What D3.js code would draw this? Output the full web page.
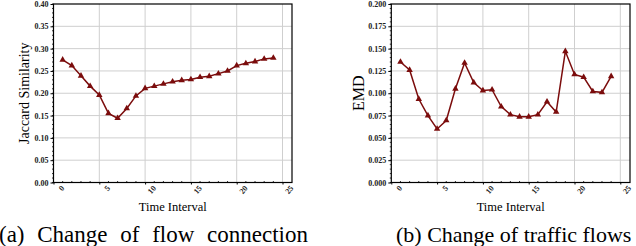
<!DOCTYPE html>
<html>
<head>
<meta charset="utf-8">
<script src="https://cdn.jsdelivr.net/npm/d3@7"></script>
<style>
  body { margin: 0; background: #fff; }
  svg { display: block; }
  svg text { font-family: "Liberation Serif", "Times New Roman", "DejaVu Serif", serif; }
</style>
</head>
<body>
<svg id="chart" width="636" height="246"></svg>
<script>
// time intervals shared by both panels
const intervals = [1,2,3,4,5,6,7,8,9,10,11,12,13,14,15,16,17,18,19,20,21,22,23,24];

// (a) Jaccard similarity of flow connections
const jaccard = [0.275,0.262,0.239,0.216,0.196,0.155,0.144,0.166,0.194,0.211,0.216,0.221,
                 0.226,0.229,0.231,0.236,0.238,0.244,0.250,0.262,0.267,0.271,0.277,0.279];

// (b) EMD of traffic flows
const emd = [0.135,0.126,0.0935,0.075,0.060,0.0695,0.105,0.134,0.112,0.103,0.104,0.085,
             0.076,0.0736,0.0736,0.076,0.0905,0.079,0.147,0.121,0.118,0.102,0.101,0.119];

const xTicks = [0,5,10,15,20,25];
const jaccardTicks = [0,0.05,0.10,0.15,0.20,0.25,0.30,0.35,0.40];
const emdTicks = [0,0.025,0.05,0.075,0.10,0.125,0.15,0.175,0.20];

const panels = [
  {left: 53.5, x25: 282.5, right: 292, values: jaccard, ticks: jaccardTicks, max: 0.4, fmt: d3.format(".2f"),
   ylabel: "Jaccard Similarity", ylabelX: 24, ylabelSize: 14,
   caption: "(a) Change of flow connection", capX: -1, capSize: 23, wordSpacing: 7},
  {left: 391.3, x25: 620.3, right: 630, values: emd, ticks: emdTicks, max: 0.2, fmt: d3.format(".3f"),
   ylabel: "EMD", ylabelX: 358, ylabelSize: 16,
   caption: "(b) Change of traffic flows", capX: 396, capSize: 22, wordSpacing: 0}
];

const plotTop = 4, plotBottom = 182.5;
const color = "#7b0c0c";
const serif = "Liberation Serif, Times New Roman, serif";
const svg = d3.select("#chart");

panels.forEach(p => {
  const x = d3.scaleLinear().domain([0, 25]).range([p.left, p.x25]);
  const y = d3.scaleLinear().domain([0, p.max]).range([plotBottom, plotTop]);
  const g = svg.append("g");

  // grid
  g.selectAll("line.hg").data(p.ticks.slice(1, -1)).enter().append("line")
    .attr("x1", p.left).attr("x2", p.right)
    .attr("y1", d => y(d)).attr("y2", d => y(d))
    .attr("stroke", "#cfcfcf").attr("stroke-width", 1);
  g.selectAll("line.vg").data(xTicks.slice(1)).enter().append("line")
    .attr("y1", plotTop).attr("y2", plotBottom)
    .attr("x1", d => x(d)).attr("x2", d => x(d))
    .attr("stroke", "#cfcfcf").attr("stroke-width", 1);

  // y axis
  const yAxis = g.append("g").attr("transform", `translate(${p.left},0)`)
    .call(d3.axisLeft(y).tickValues(p.ticks).tickFormat(p.fmt).tickSize(3).tickPadding(2));
  yAxis.attr("font-family", serif);
  yAxis.select(".domain").remove();
  yAxis.selectAll("text").attr("font-size", 8).attr("font-weight", "bold").attr("fill", "#222");
  const yMinor = d3.range(0, p.max + 1e-9, p.max / 40);
  g.selectAll("line.ym").data(yMinor).enter().append("line")
    .attr("x1", p.left - 1.5).attr("x2", p.left)
    .attr("y1", d => y(d)).attr("y2", d => y(d))
    .attr("stroke", "#000").attr("stroke-width", 0.8);

  // x axis
  const xAxis = g.append("g").attr("transform", `translate(0,${plotBottom})`)
    .call(d3.axisBottom(x).tickValues(xTicks).tickFormat(d3.format("d")).tickSize(2).tickPadding(3));
  xAxis.attr("font-family", serif);
  xAxis.select(".domain").remove();
  xAxis.selectAll("text")
    .attr("font-size", 8).attr("font-weight", "bold").attr("fill", "#222")
    .attr("text-anchor", "end")
    .attr("dx", "0.3em").attr("dy", "0.9em")
    .attr("transform", "rotate(-50)");
  g.selectAll("line.xm").data(d3.range(1, 26).filter(d => d % 5)).enter().append("line")
    .attr("x1", d => x(d)).attr("x2", d => x(d))
    .attr("y1", plotBottom - 1.5).attr("y2", plotBottom)
    .attr("stroke", "#000").attr("stroke-width", 0.8);

  // frame
  g.append("rect").attr("x", p.left).attr("y", plotTop)
    .attr("width", p.right - p.left).attr("height", plotBottom - plotTop)
    .attr("fill", "none").attr("stroke", "#000").attr("stroke-width", 1.2);

  // line + triangle markers
  const pts = intervals.map((t, i) => [t, p.values[i]]);
  g.append("path").datum(pts)
    .attr("fill", "none").attr("stroke", color).attr("stroke-width", 1.5)
    .attr("d", d3.line().x(d => x(d[0])).y(d => y(d[1])));
  const tri = d3.symbol().type(d3.symbolTriangle).size(18);
  g.selectAll("path.mk").data(pts).enter().append("path")
    .attr("class", "mk")
    .attr("transform", d => `translate(${x(d[0])},${y(d[1])})`)
    .attr("d", tri).attr("fill", color);

  // labels
  g.append("text").attr("text-anchor", "middle").attr("font-family", serif)
    .attr("transform", `translate(${p.ylabelX},${(plotTop + plotBottom) / 2}) rotate(-90)`)
    .attr("dy", "0.35em")
    .attr("font-size", p.ylabelSize).text(p.ylabel);
  g.append("text").attr("text-anchor", "middle").attr("font-family", serif)
    .attr("x", (p.left + p.right) / 2).attr("y", 211)
    .attr("font-size", 12.5).text("Time Interval");
  g.append("text").attr("x", p.capX).attr("y", 242).attr("font-family", serif)
    .attr("font-size", p.capSize)
    .style("word-spacing", p.wordSpacing + "px").text(p.caption);
});
</script>
</body>
</html>
